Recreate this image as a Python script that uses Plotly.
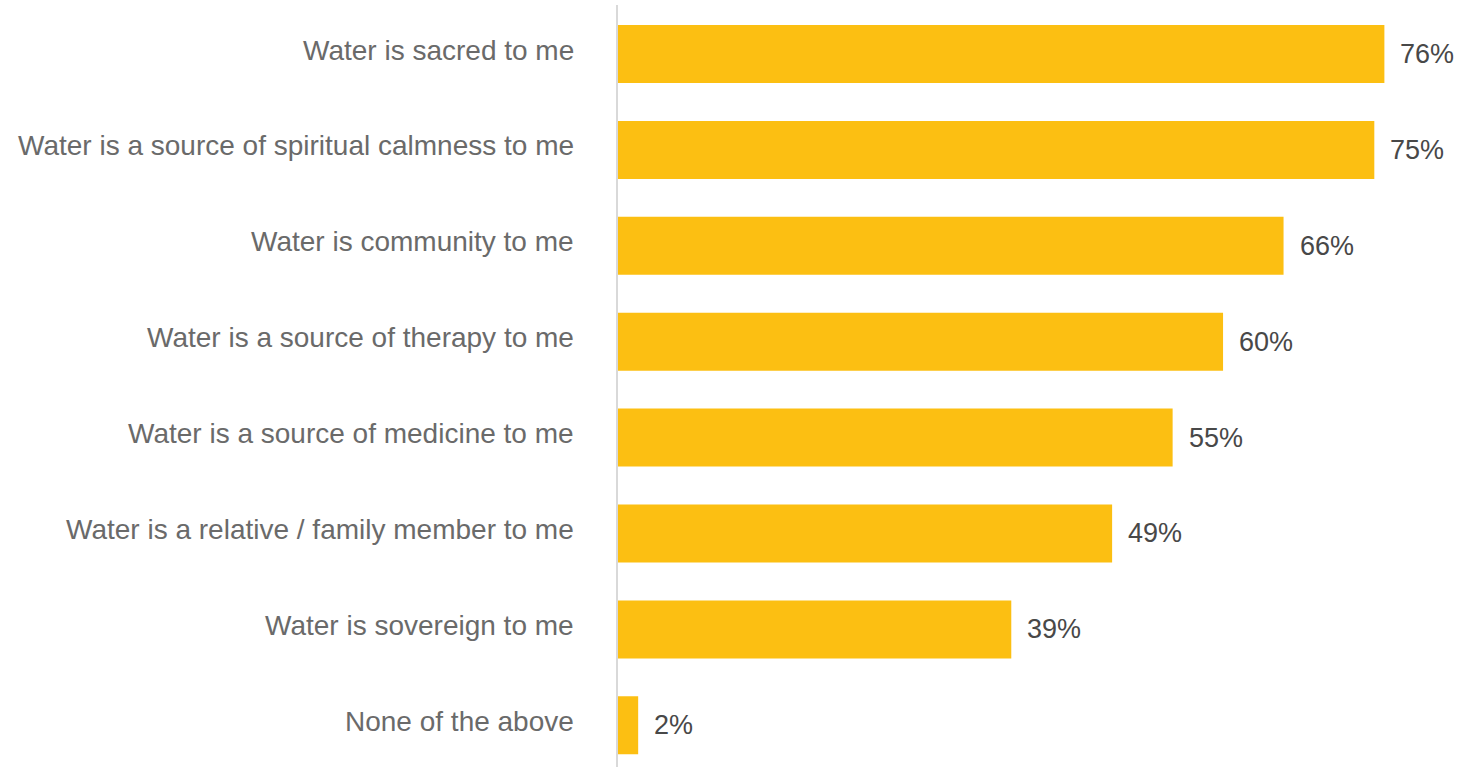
import plotly.graph_objects as go

categories = [
    "Water is sacred to me",
    "Water is a source of spiritual calmness to me",
    "Water is community to me",
    "Water is a source of therapy to me",
    "Water is a source of medicine to me",
    "Water is a relative / family member to me",
    "Water is sovereign to me",
    "None of the above",
]
values = [76, 75, 66, 60, 55, 49, 39, 2]

BAR_COLOR = "#FCBF12"
LABEL_COLOR = "#6A6A6A"
VALUE_COLOR = "#484848"
FONT = "Liberation Sans, Arial, sans-serif"

fig = go.Figure(
    go.Bar(
        x=values,
        y=list(range(len(categories))),
        orientation="h",
        marker=dict(color=BAR_COLOR, line=dict(width=0)),
        hoverinfo="skip",
    )
)

annotations = []
for i, (cat, val) in enumerate(zip(categories, values)):
    # category label to the left of the axis
    annotations.append(dict(
        x=0, y=i, xref="paper", yref="y", text=cat, showarrow=False,
        xanchor="right", yanchor="middle", xshift=-42, yshift=4,
        font=dict(family=FONT, size=28, color=LABEL_COLOR),
    ))
    # value label just past the bar end
    annotations.append(dict(
        x=val, y=i, xref="x", yref="y", text=f"{val}%", showarrow=False,
        xanchor="left", yanchor="middle", xshift=14,
        font=dict(family=FONT, size=27, color=VALUE_COLOR),
    ))

fig.update_layout(
    width=1457, height=767,
    margin=dict(l=618, r=0, t=5, b=0),
    paper_bgcolor="white", plot_bgcolor="white",
    bargap=0.395,
    showlegend=False,
    annotations=annotations,
    xaxis=dict(range=[0, 83.2], showgrid=False, zeroline=False,
               showticklabels=False, showline=False),
    yaxis=dict(range=[7.435, -0.511], showgrid=False, zeroline=False,
               showticklabels=False, showline=True, linecolor="#D9D9D9",
               linewidth=2),
)

fig.write_html("out.html")
